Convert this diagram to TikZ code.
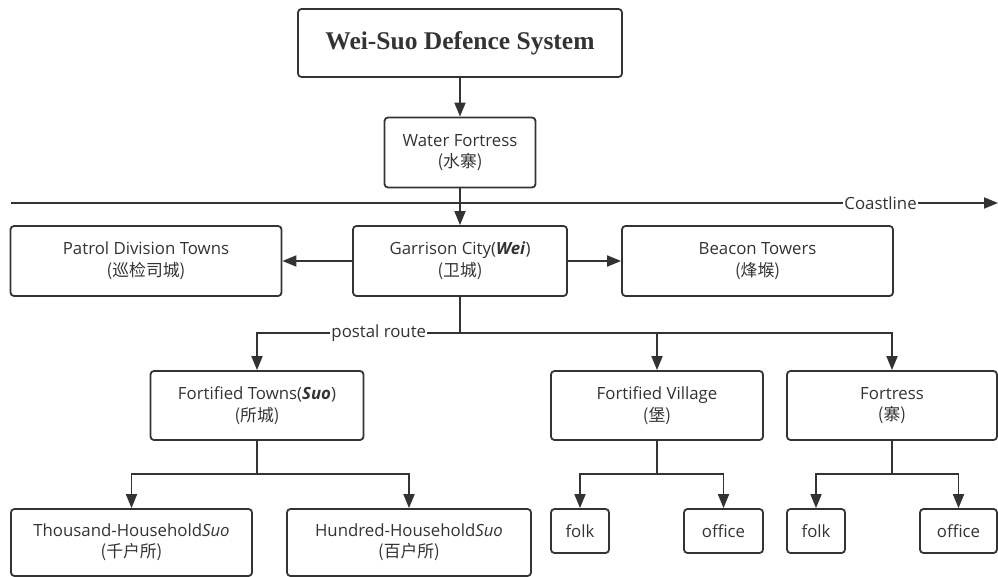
\documentclass[tikz,border=0pt]{standalone}
\usepackage{fontspec}
\usepackage{xcolor}
\usetikzlibrary{arrows.meta}
\setmainfont{Open Sans}
\newfontfamily\cjk{Noto Sans CJK SC}
\newfontfamily\titlefont{Liberation Serif}
\definecolor{ink}{HTML}{333333}

\begin{document}
\begin{tikzpicture}[x=1pt, y=-1pt, line width=1.8pt, >={Triangle[length=14pt,width=11pt]},
    draw=ink, text=ink, font=\fontsize{16.8}{21.5}\selectfont,
    box/.style={draw=ink, rounded corners=3.5pt, align=center, inner sep=0pt},
    lbl/.style={fill=white, inner sep=1pt}]
        \useasboundingbox (0,0) rectangle (998,577);
        \clip (0,0) rectangle (998,577);
        \node[box, minimum width=324pt, minimum height=68pt,
          font=\titlefont\bfseries\fontsize{25.5}{30}\selectfont] (title) at (460,43) {Wei-Suo Defence System};
        \node[box, minimum width=151pt, minimum height=70pt] (water) at (460,152.5) {Water Fortress\\{\cjk (水寨)}};
        % row of the garrison
        \node[box, minimum width=271pt, minimum height=70pt] (patrol) at (146,261) {Patrol Division Towns\\{\cjk (巡检司城)}};
        \node[box, minimum width=214pt, minimum height=70pt] (wei) at (460,261) {Garrison City(\textbf{\textit{Wei}})\\{\cjk (卫城)}};
        \node[box, minimum width=271pt, minimum height=70pt] (beacon) at (757.5,261) {Beacon Towers\\{\cjk (烽堠)}};
        % row of the towns
        \node[box, minimum width=213pt, minimum height=69pt] (suo) at (257,405.5) {Fortified Towns(\textbf{\textit{Suo}})\\{\cjk (所城)}};
        \node[box, minimum width=212pt, minimum height=69pt] (village) at (657,405.5) {Fortified Village\\{\cjk (堡)}};
        \node[box, minimum width=210pt, minimum height=69pt] (fortress) at (892,405.5) {Fortress\\{\cjk (寨)}};
        % bottom row
        \node[box, minimum width=241pt, minimum height=67pt] (thousand) at (131.5,542.5) {Thousand-Household\textit{Suo}\\{\cjk (千户所)}};
        \node[box, minimum width=244pt, minimum height=67pt] (hundred) at (409,542.5) {Hundred-Household\textit{Suo}\\{\cjk (百户所)}};
        \node[box, minimum width=58pt, minimum height=44pt] (vfolk) at (580,531) {folk};
        \node[box, minimum width=79pt, minimum height=44pt] (voffice) at (723.5,531) {office};
        \node[box, minimum width=58pt, minimum height=44pt] (ffolk) at (816,531) {folk};
        \node[box, minimum width=77pt, minimum height=44pt] (foffice) at (958.5,531) {office};

        \coordinate (coastW) at (11,203);
        \coordinate (coastE) at (998,203);
        \coordinate (postal) at (460,333);
        \coordinate (suoFork) at (257,474);
        \coordinate (vilFork) at (657,474);
        \coordinate (fortFork) at (892,474);

        \draw[->] (title) -- (water);
        \draw[->] (water) -- (wei);
        \draw[->] (coastW) -- node[lbl, pos=0.881] {Coastline} (coastE);
        \draw[->] (wei) -- (patrol);
        \draw[->] (wei) -- (beacon);
        \draw (wei) -- (postal);
        \draw[->] (postal) -| node[lbl, pos=0.2] {postal route} (suo);
        \draw[->] (postal) -| (village);
        \draw[->] (postal) -| (fortress);
        \draw (suo) -- (suoFork);
        \draw[->] (suoFork) -| (thousand);
        \draw[->] (suoFork) -| (hundred);
        \draw (village) -- (vilFork);
        \draw[->] (vilFork) -| (vfolk);
        \draw[->] (vilFork) -| (voffice);
        \draw (fortress) -- (fortFork);
        \draw[->] (fortFork) -| (ffolk);
        \draw[->] (fortFork) -| (foffice);
      \end{tikzpicture}
\end{document}
